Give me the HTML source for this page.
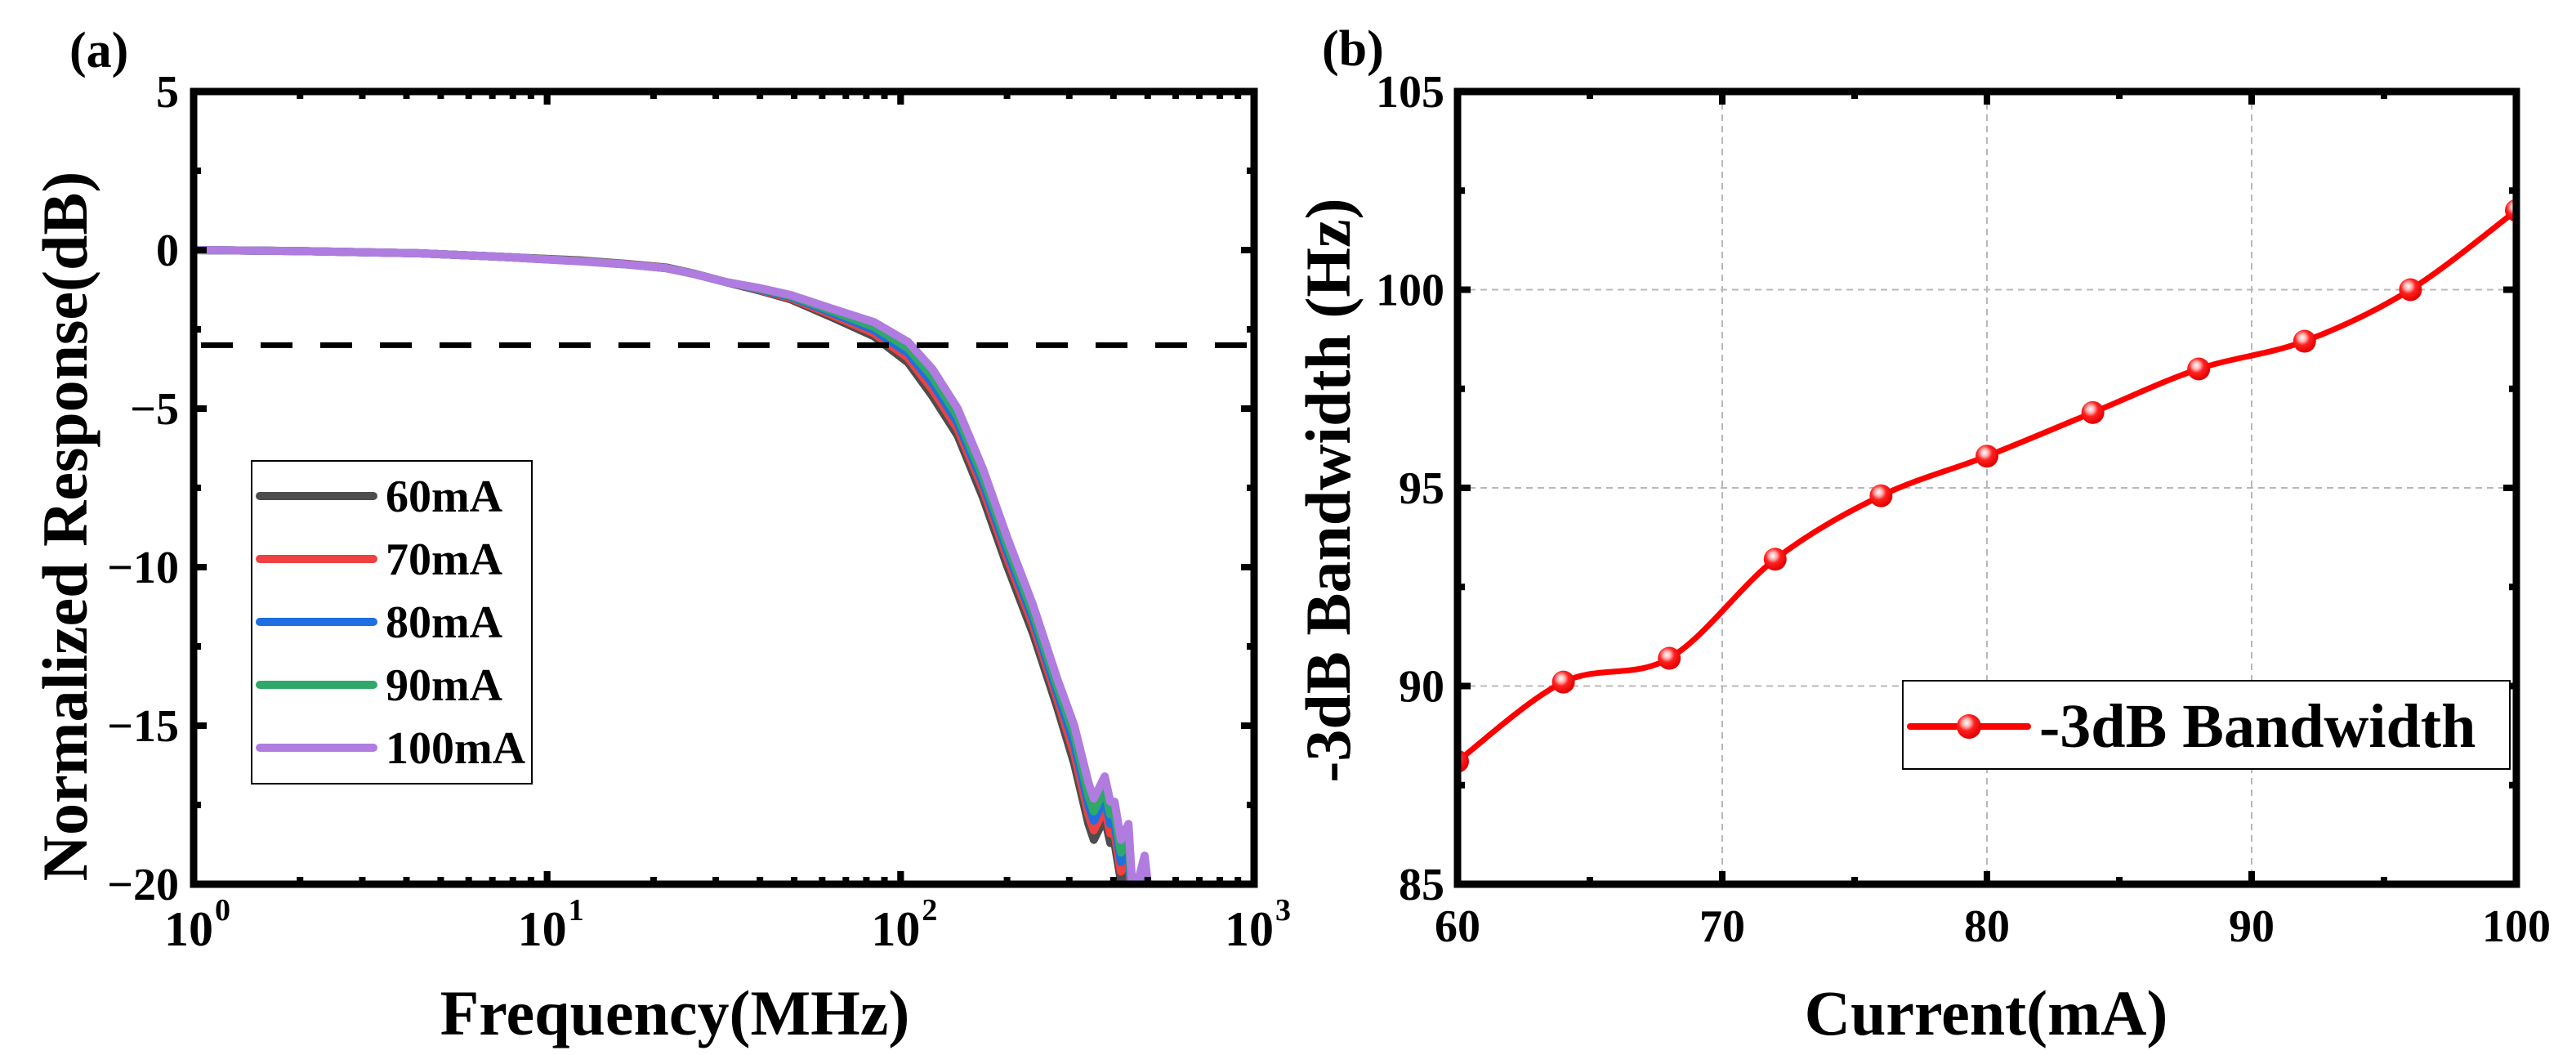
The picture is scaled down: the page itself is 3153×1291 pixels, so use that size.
<!DOCTYPE html>
<html><head><meta charset="utf-8"><style>
html,body{margin:0;padding:0;background:#fff;}
svg{display:block;}
text{font-family:"Liberation Serif",serif;font-weight:bold;fill:#000;}
</style></head><body>
<svg id="fig" width="3153" height="1291" viewBox="0 0 3153 1291" xmlns="http://www.w3.org/2000/svg">
<defs>
<clipPath id="clipA"><rect x="237" y="112" width="1298" height="970"/></clipPath>
<clipPath id="clipB"><rect x="1784" y="112" width="1296" height="970"/></clipPath>
<radialGradient id="ball" cx="0.4" cy="0.35" r="0.65">
<stop offset="0" stop-color="#ffffff"/><stop offset="0.25" stop-color="#ffb0b0"/><stop offset="0.5" stop-color="#ff2020"/><stop offset="1" stop-color="#e00000"/>
</radialGradient>
</defs>
<g id="panelA"></g>
<g id="panelB"></g>
</svg>
<script>
// ---- Panel (a) data ----
const freqMHz = [1,2,4.3,7,12.6,17,21.7,26,31.8,40,49,64,84,105,123,145,171,200,237,277,310,340,352,378,392,403,420,441,455,490,512];
const resp60 = [0,-0.03,-0.1,-0.2,-0.33,-0.44,-0.55,-0.74,-1.0,-1.28,-1.56,-2.12,-2.72,-3.55,-4.6,-5.85,-7.8,-9.95,-12.1,-14.4,-16.2,-18.1,-18.6,-17.9,-18.7,-18.7,-19.9,-19.4,-21.8,-20.4,-22.3];
const resp70 = [0,-0.03,-0.1,-0.2,-0.34,-0.45,-0.56,-0.75,-1.0,-1.26,-1.52,-2.05,-2.62,-3.4,-4.4,-5.65,-7.55,-9.7,-11.85,-14.15,-15.9,-17.8,-18.3,-17.6,-18.4,-18.4,-19.6,-19.1,-21.5,-20.1,-22];
const resp80 = [0,-0.03,-0.1,-0.2,-0.35,-0.46,-0.57,-0.75,-1.0,-1.24,-1.48,-1.98,-2.52,-3.25,-4.2,-5.45,-7.35,-9.5,-11.65,-13.95,-15.6,-17.5,-18.0,-17.3,-18.1,-18.1,-19.3,-18.8,-21.2,-19.8,-21.7];
const resp90 = [0,-0.03,-0.1,-0.2,-0.35,-0.46,-0.57,-0.75,-1.0,-1.22,-1.45,-1.92,-2.42,-3.1,-4.0,-5.25,-7.15,-9.3,-11.45,-13.75,-15.3,-17.2,-17.7,-17.0,-17.8,-17.8,-19.0,-18.5,-20.9,-19.5,-21.4];
const resp100 = [0,-0.03,-0.1,-0.2,-0.36,-0.46,-0.57,-0.75,-1.0,-1.2,-1.42,-1.85,-2.27,-2.9,-3.75,-5.0,-6.9,-9.05,-11.2,-13.5,-15.0,-16.8,-17.3,-16.6,-17.4,-17.4,-18.6,-18.1,-20.5,-19.1,-21];
const seriesLabels = ["60mA","70mA","80mA","90mA","100mA"];
const yTicksA = [5,0,-5,-10,-15,-20];
const xDecadesA = [0,1,2,3];
const refLevel = -3;
// ---- Panel (b) data ----
const currentMA = [60,64,68,72,76,80,84,88,92,96,100];
const bandwidth = [88.1,90.1,90.7,93.2,94.8,95.8,96.9,98.0,98.7,100.0,102.0];
const xTicksB = [60,70,80,90,100];
const yTicksB = [85,90,95,100,105];

const NS="http://www.w3.org/2000/svg";
function mk(parent,tag,attrs,txt){const e=document.createElementNS(NS,tag);for(const k in attrs)e.setAttribute(k,attrs[k]);if(txt!==undefined)e.textContent=txt;parent.appendChild(e);return e;}

// ===== Panel A =====
const A=document.getElementById('panelA');
const aL=237,aR=1535,aT=112,aB=1082;
const xA=f=>aL+(Math.log10(f)-0)/3*(aR-aL);
const yA=v=>aT+(5-v)/25*(aB-aT);
const colors=["#4d4d4d","#f04040","#1f6fe0","#2fa86a","#b07ce0"];
const allResp=[resp60,resp70,resp80,resp90,resp100];

const lab=mk(A,'text',{x:85,y:82,'font-size':62});
lab.textContent='(a)';



const curvesA=mk(A,'g',{'clip-path':'url(#clipA)'});


allResp.forEach((arr,i)=>{
  const d=arr.map((v,j)=>(j?'L':'M')+xA(freqMHz[j]).toFixed(1)+' '+yA(v).toFixed(1)).join(' ');
  const p=mk(curvesA,'path',{d:d,fill:'none',stroke:colors[i],'stroke-width':10,'stroke-linejoin':'round','stroke-linecap':'round'});
  
  
});
const ref=mk(A,'line',{x1:aL+4,x2:aR-4,y1:yA(refLevel),y2:yA(refLevel),stroke:'#000','stroke-width':7,'stroke-dasharray':'39 34','stroke-dashoffset':'-5'});



// ticks A
const tkA=mk(A,'g',{stroke:'#000'});


for(let v=5;v>=-20;v-=2.5){const y=yA(v);const major=(v%5===0);const len=major?16:9;
  mk(tkA,'line',{x1:aL,x2:aL+len,y1:y,y2:y,'stroke-width':8});
  mk(tkA,'line',{x1:aR,x2:aR-len,y1:y,y2:y,'stroke-width':8});}
for(let dcd=0;dcd<3;dcd++){for(let m=1;m<=10;m++){const x=xA(m*Math.pow(10,dcd));const len=(m===1||m===10)?16:9;
  mk(tkA,'line',{x1:x,x2:x,y1:aB,y2:aB-len,'stroke-width':8});
  mk(tkA,'line',{x1:x,x2:x,y1:aT,y2:aT+len,'stroke-width':8});}}
const frA=mk(A,'rect',{x:aL,y:aT,width:aR-aL,height:aB-aT,fill:'none',stroke:'#000','stroke-width':9});



yTicksA.forEach(v=>{const t=mk(A,'text',{x:219,y:yA(v)+19,'font-size':56,'text-anchor':'end'});
  t.textContent=(v<0?'\u2212'+(-v):String(v));
  
  });
xDecadesA.forEach(e=>{const x=xA(Math.pow(10,e));const t=mk(A,'text',{x:x-6,y:1157,'font-size':60,'text-anchor':'middle'});
  t.textContent='10';
  
  
  const s=mk(A,'text',{x:x+26,y:1126,'font-size':38});
  s.textContent=String(e);
  
  });
const xtA=mk(A,'text',{x:826,y:1266,'font-size':78,'text-anchor':'middle'});
xtA.textContent='Frequency(MHz)';


const ytA=mk(A,'text',{x:0,y:0,'font-size':78,'text-anchor':'middle',transform:'translate(106,644) rotate(-90)'});
ytA.textContent='Normalized Response(dB)';



// legend A
const lgA=mk(A,'g',{});


mk(lgA,'rect',{x:308,y:564,width:343,height:395,fill:'#fff',stroke:'#000','stroke-width':2});
seriesLabels.forEach((s,i)=>{const y=607+i*77;
  const g=mk(lgA,'g',{});
  
  
  mk(g,'line',{x1:318,x2:457,y1:y,y2:y,stroke:colors[i],'stroke-width':10,'stroke-linecap':'round'});
  mk(g,'text',{x:472,y:y+19,'font-size':56},s);});

// ===== Panel B =====
const B=document.getElementById('panelB');
const bL=1784,bR=3080,bT=112,bB=1082;
const xB=c=>bL+(c-60)/40*(bR-bL);
const yB=v=>bB-(v-85)/20*(bB-bT);

const labB=mk(B,'text',{x:1618,y:80,'font-size':62});
labB.textContent='(b)';



const grid=mk(B,'g',{stroke:'#b8b8b8','stroke-width':2,'stroke-dasharray':'8 6'});


xTicksB.forEach(c=>mk(grid,'line',{x1:xB(c),x2:xB(c),y1:bT,y2:bB}));
yTicksB.forEach(v=>mk(grid,'line',{x1:bL,x2:bR,y1:yB(v),y2:yB(v)}));

// smooth curve (Catmull-Rom)
const P=currentMA.map((c,i)=>[xB(c),yB(bandwidth[i])]);
let d='M'+P[0][0]+' '+P[0][1];
for(let i=0;i<P.length-1;i++){const p0=P[Math.max(0,i-1)],p1=P[i],p2=P[i+1],p3=P[Math.min(P.length-1,i+2)];
  const c1=[p1[0]+(p2[0]-p0[0])/6,p1[1]+(p2[1]-p0[1])/6],c2=[p2[0]-(p3[0]-p1[0])/6,p2[1]-(p3[1]-p1[1])/6];
  d+=' C'+c1[0].toFixed(1)+' '+c1[1].toFixed(1)+' '+c2[0].toFixed(1)+' '+c2[1].toFixed(1)+' '+p2[0].toFixed(1)+' '+p2[1].toFixed(1);}
const gB=mk(B,'g',{'clip-path':'url(#clipB)'});


const cB=mk(gB,'path',{d:d,fill:'none',stroke:'#ff0000','stroke-width':7});


P.forEach((p,i)=>{const m=mk(gB,'circle',{cx:p[0],cy:p[1],r:14,fill:'url(#ball)'});
  
  });

const tkB=mk(B,'g',{stroke:'#000'});


for(let c=60;c<=100;c+=5){const x=xB(c);const len=(c%10===0)?16:9;
  mk(tkB,'line',{x1:x,x2:x,y1:bB,y2:bB-len,'stroke-width':8});
  mk(tkB,'line',{x1:x,x2:x,y1:bT,y2:bT+len,'stroke-width':8});}
for(let v=85;v<=105;v+=2.5){const y=yB(v);const len=(v%5===0)?16:9;
  mk(tkB,'line',{x1:bL,x2:bL+len,y1:y,y2:y,'stroke-width':8});
  mk(tkB,'line',{x1:bR,x2:bR-len,y1:y,y2:y,'stroke-width':8});}
const frB=mk(B,'rect',{x:bL,y:bT,width:bR-bL,height:bB-bT,fill:'none',stroke:'#000','stroke-width':9});



yTicksB.forEach(v=>{const t=mk(B,'text',{x:1768,y:yB(v)+19,'font-size':56,'text-anchor':'end'});
  t.textContent=String(v);
  
  });
xTicksB.forEach(c=>{const t=mk(B,'text',{x:xB(c),y:1152,'font-size':56,'text-anchor':'middle'});
  t.textContent=String(c);
  
  });
const xtB=mk(B,'text',{x:2431,y:1266,'font-size':78,'text-anchor':'middle'});
xtB.textContent='Current(mA)';


const ytB=mk(B,'text',{x:0,y:0,'font-size':78,'text-anchor':'middle',transform:'translate(1652,600) rotate(-90)'});
ytB.textContent='-3dB Bandwidth (Hz)';



const lgB=mk(B,'g',{});


mk(lgB,'rect',{x:2329,y:833,width:743,height:108,fill:'#fff',stroke:'#000','stroke-width':2});
mk(lgB,'line',{x1:2338,x2:2482,y1:889,y2:889,stroke:'#ff0000','stroke-width':8,'stroke-linecap':'round'});
mk(lgB,'circle',{cx:2410,cy:889,r:15,fill:'url(#ball)'});
mk(lgB,'text',{x:2496,y:914,'font-size':76},'-3dB Bandwidth');
</script>
</body></html>
